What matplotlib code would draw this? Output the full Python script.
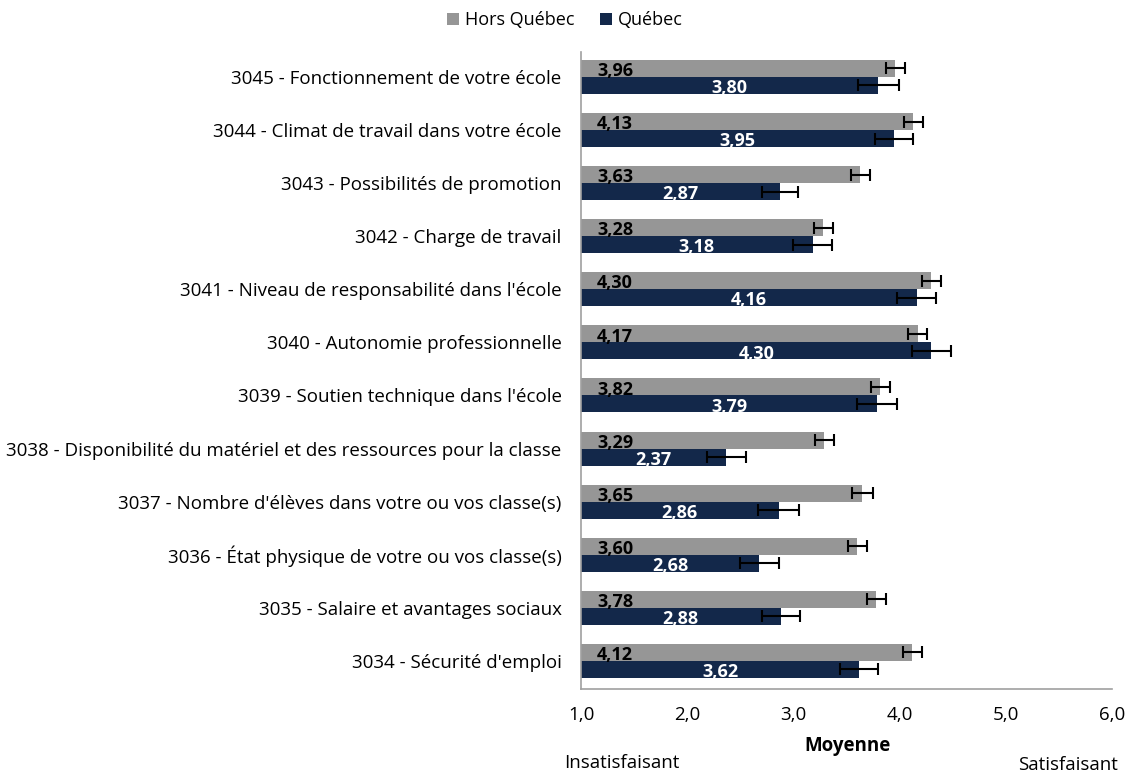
import matplotlib
matplotlib.use("Agg")
import matplotlib.pyplot as plt
import numpy as np

plt.rcParams['font.family'] = ['Open Sans', 'DejaVu Sans']

categories = [
    "3045 - Fonctionnement de votre école",
    "3044 - Climat de travail dans votre école",
    "3043 - Possibilités de promotion",
    "3042 - Charge de travail",
    "3041 - Niveau de responsabilité dans l'école",
    "3040 - Autonomie professionnelle",
    "3039 - Soutien technique dans l'école",
    "3038 - Disponibilité du matériel et des ressources pour la classe",
    "3037 - Nombre d'élèves dans votre ou vos classe(s)",
    "3036 - État physique de votre ou vos classe(s)",
    "3035 - Salaire et avantages sociaux",
    "3034 - Sécurité d'emploi",
]
hors_quebec = [3.96, 4.13, 3.63, 3.28, 4.30, 4.17, 3.82, 3.29, 3.65, 3.60, 3.78, 4.12]
quebec = [3.80, 3.95, 2.87, 3.18, 4.16, 4.30, 3.79, 2.37, 2.86, 2.68, 2.88, 3.62]
hors_quebec_err = [0.09, 0.09, 0.09, 0.09, 0.09, 0.09, 0.09, 0.09, 0.10, 0.09, 0.09, 0.09]
quebec_err = [0.19, 0.18, 0.17, 0.18, 0.18, 0.18, 0.19, 0.18, 0.19, 0.18, 0.18, 0.18]
xticks = [1.0, 2.0, 3.0, 4.0, 5.0, 6.0]

GRAY = '#969696'
NAVY = '#13284a'
FS = 13.5
FS_SMALL = 13

fig = plt.figure(figsize=(11.27, 7.74), dpi=100)
ax = fig.add_axes([581/1127, 1 - 689/774, (1112-581)/1127, (689-52)/774])

n = len(categories)
y = np.arange(n)
h = 0.32
base = 1.0

ax.barh(y - h/2, np.array(hors_quebec) - base, left=base, height=h, color=GRAY,
        label='Hors Québec', xerr=hors_quebec_err,
        error_kw=dict(ecolor='black', capsize=4.3, elinewidth=1.5, capthick=1.5))
ax.barh(y + h/2, np.array(quebec) - base, left=base, height=h, color=NAVY,
        label='Québec', xerr=quebec_err,
        error_kw=dict(ecolor='black', capsize=4.3, elinewidth=1.5, capthick=1.5))

for i in range(n):
    ax.text(1.15, y[i] - h/2 + 0.05, f"{hors_quebec[i]:.2f}".replace('.', ','),
            ha='left', va='center', fontsize=FS_SMALL, fontweight='bold', color='black')
    ax.text((base + quebec[i]) / 2, y[i] + h/2 + 0.05, f"{quebec[i]:.2f}".replace('.', ','),
            ha='center', va='center', fontsize=FS_SMALL, fontweight='bold', color='white')

ax.set_yticks(y)
ax.set_yticklabels(categories, fontsize=FS)
ax.set_ylim(11.53, -0.47)
ax.set_xlim(1.0, 6.0)
ax.set_xticks(xticks)
ax.set_xticklabels([f"{t:.1f}".replace('.', ',') for t in xticks], fontsize=FS)
ax.tick_params(axis='both', length=0)
ax.tick_params(axis='x', pad=12)
ax.tick_params(axis='y', pad=14)

for s in ['top', 'right']:
    ax.spines[s].set_visible(False)
for s in ['left', 'bottom']:
    ax.spines[s].set_color('#a0a0a0')
    ax.spines[s].set_linewidth(1.2)

fig.text(847/1127, 1 - 746/774, "Moyenne", ha='center', va='center', fontsize=FS, fontweight='bold')
fig.text(622/1127, 1 - 763/774, "Insatisfaisant", ha='center', va='center', fontsize=FS)
fig.text(1068/1127, 1 - 765/774, "Satisfaisant", ha='center', va='center', fontsize=FS)

fig.legend(loc='center', bbox_to_anchor=(565/1127, 1 - 20/774), ncol=2, frameon=False,
           fontsize=FS_SMALL, handlelength=0.65, handleheight=0.65, handletextpad=0.35,
           columnspacing=1.4)

fig.savefig("out.png", dpi=100)
